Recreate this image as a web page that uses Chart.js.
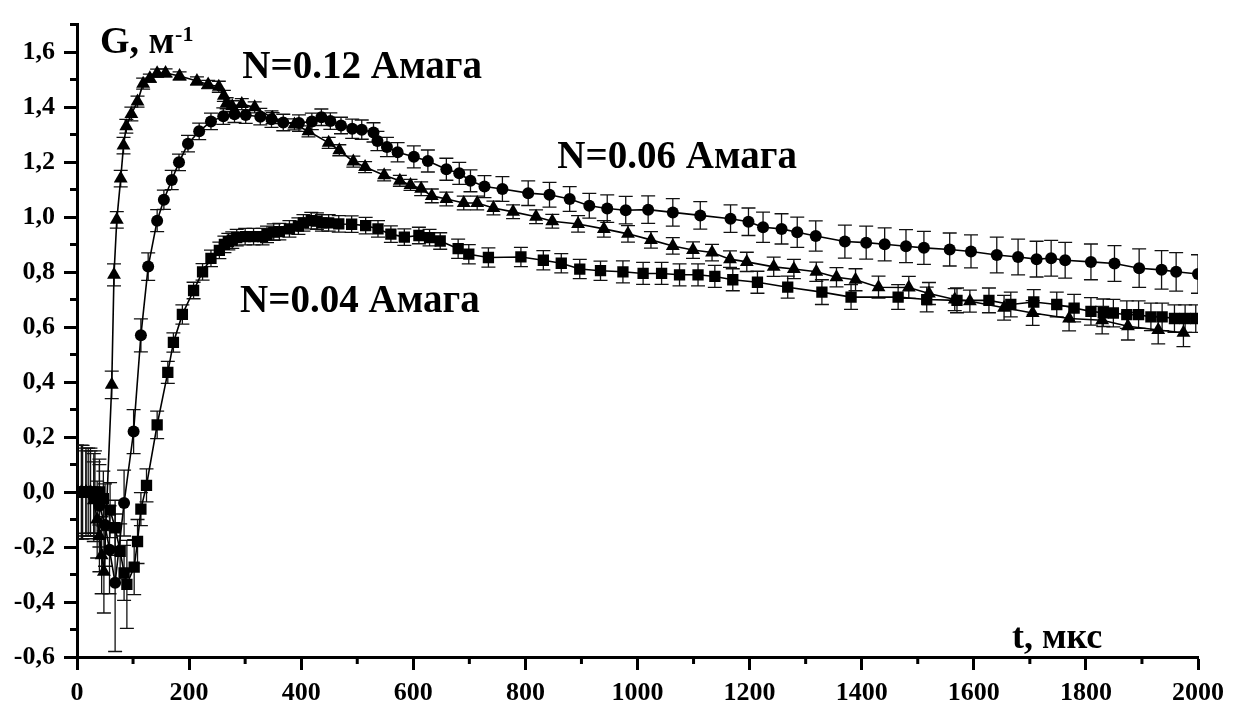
<html>
  <head>
    <script src="https://cdn.jsdelivr.net/npm/chart.js@4.4.0/dist/chart.umd.min.js"></script>
    <style>
      body { margin: 0; background: #fff; }
    </style>
  </head>
  <body>
    <canvas id="output" width="1238" height="709"></canvas>

    <script>
      // N = 0.12 Amaga (triangles)
      var t12 = [0,8,16,24,30,36,40,44,48,62,66,71,78,83,88,97,108,118,130,143,158,183,214,234,253,262,267,277,294,317,349,388,413,449,468,493,514,548,576,595,614,633,659,690,714,743,778,819,848,894,940,983,1024,1063,1099,1133,1165,1195,1243,1279,1319,1355,1389,1430,1484,1520,1566,1593,1654,1705,1770,1829,1875,1929,1974];
      var g12 = [0,0,0,0,-0.03,-0.10,-0.16,-0.23,-0.29,0.39,0.79,0.99,1.14,1.26,1.33,1.375,1.42,1.485,1.505,1.523,1.524,1.513,1.495,1.482,1.474,1.441,1.414,1.403,1.411,1.399,1.36,1.337,1.312,1.27,1.243,1.202,1.182,1.152,1.132,1.117,1.103,1.077,1.066,1.051,1.051,1.033,1.019,1.001,0.985,0.975,0.957,0.939,0.917,0.895,0.88,0.871,0.847,0.837,0.819,0.811,0.801,0.781,0.772,0.745,0.744,0.722,0.7,0.694,0.67,0.651,0.631,0.625,0.603,0.589,0.579];
      var e12 = [0.17,0.17,0.15,0.15,0.14,0.14,0.13,0.14,0.15,0.05,0.04,0.03,0.03,0.03,0.025,0.025,0.02,0.02,0.015,0.015,0.015,0.015,0.015,0.015,0.02,0.02,0.02,0.02,0.02,0.02,0.02,0.02,0.02,0.02,0.02,0.02,0.02,0.02,0.02,0.02,0.025,0.025,0.025,0.025,0.025,0.025,0.025,0.025,0.025,0.03,0.03,0.03,0.03,0.03,0.03,0.03,0.03,0.035,0.035,0.035,0.035,0.035,0.04,0.04,0.04,0.04,0.04,0.04,0.045,0.045,0.045,0.05,0.05,0.05,0.05];

      // N = 0.06 Amaga (circles)
      var t06 = [0,10,20,30,40,50,58,68,84,101,114,127,143,155,169,182,198,218,239,261,281,301,327,347,368,396,419,436,452,471,491,508,529,536,553,572,601,626,659,682,702,727,759,805,843,879,914,946,979,1019,1063,1112,1166,1198,1224,1257,1285,1318,1370,1408,1441,1479,1511,1557,1595,1641,1679,1712,1738,1763,1809,1851,1895,1935,1961,2000];
      var g06 = [0,0,0,-0.02,-0.05,-0.12,-0.21,-0.33,-0.04,0.22,0.57,0.82,0.987,1.063,1.135,1.199,1.267,1.312,1.348,1.367,1.374,1.371,1.365,1.356,1.344,1.342,1.348,1.363,1.349,1.333,1.321,1.318,1.308,1.277,1.255,1.236,1.219,1.204,1.174,1.159,1.132,1.111,1.102,1.087,1.081,1.066,1.041,1.031,1.025,1.027,1.017,1.006,0.994,0.983,0.963,0.957,0.945,0.931,0.911,0.907,0.901,0.894,0.888,0.882,0.875,0.862,0.855,0.847,0.85,0.843,0.837,0.831,0.814,0.808,0.801,0.793];
      var e06 = [0.17,0.17,0.16,0.16,0.15,0.15,0.16,0.25,0.12,0.08,0.06,0.05,0.04,0.035,0.035,0.03,0.03,0.03,0.03,0.03,0.03,0.03,0.03,0.03,0.03,0.03,0.03,0.03,0.03,0.03,0.035,0.035,0.035,0.035,0.035,0.035,0.04,0.04,0.04,0.04,0.04,0.04,0.045,0.045,0.045,0.045,0.045,0.05,0.05,0.05,0.05,0.05,0.05,0.05,0.055,0.055,0.055,0.055,0.06,0.06,0.06,0.06,0.06,0.06,0.06,0.065,0.065,0.065,0.065,0.065,0.065,0.065,0.07,0.07,0.07,0.07];

      // N = 0.04 Amaga (squares)
      var t04 = [0,8,16,24,32,40,47,59,68,77,84,89,102,108,114,124,143,162,172,188,208,224,239,254,263,270,277,285,300,315,331,339,351,361,379,395,404,418,428,437,449,467,490,515,537,560,584,610,629,648,680,699,734,792,832,864,897,934,974,1010,1043,1075,1108,1138,1170,1214,1268,1329,1381,1465,1516,1570,1627,1666,1707,1748,1779,1809,1831,1849,1873,1894,1916,1936,1958,1977,1996];
      var g04 = [0,0,0,0,0,0,-0.024,-0.066,-0.13,-0.216,-0.294,-0.336,-0.273,-0.18,-0.062,0.024,0.244,0.435,0.544,0.646,0.733,0.801,0.85,0.879,0.901,0.911,0.916,0.925,0.929,0.929,0.929,0.937,0.945,0.947,0.957,0.967,0.979,0.987,0.985,0.979,0.979,0.975,0.974,0.969,0.957,0.938,0.927,0.933,0.925,0.913,0.885,0.865,0.853,0.855,0.843,0.832,0.811,0.805,0.801,0.795,0.795,0.79,0.79,0.784,0.772,0.763,0.745,0.727,0.709,0.709,0.7,0.697,0.697,0.682,0.691,0.682,0.669,0.657,0.652,0.651,0.645,0.645,0.637,0.637,0.631,0.631,0.631];
      var e04 = [0.17,0.17,0.16,0.16,0.15,0.12,0.1,0.1,0.1,0.1,0.1,0.16,0.1,0.08,0.06,0.06,0.05,0.04,0.035,0.035,0.03,0.03,0.03,0.03,0.03,0.03,0.03,0.03,0.03,0.03,0.03,0.03,0.03,0.03,0.03,0.03,0.03,0.03,0.03,0.03,0.03,0.03,0.03,0.03,0.03,0.03,0.03,0.03,0.03,0.03,0.035,0.035,0.035,0.035,0.035,0.035,0.035,0.035,0.04,0.04,0.04,0.04,0.04,0.04,0.04,0.04,0.04,0.045,0.045,0.045,0.045,0.045,0.045,0.045,0.045,0.045,0.05,0.05,0.05,0.05,0.05,0.05,0.05,0.05,0.05,0.05,0.05];

      // axis ticks (major get labels, minor are short marks)
      var yMajor = [-0.6,-0.4,-0.2,0,0.2,0.4,0.6,0.8,1.0,1.2,1.4,1.6];
      var yMinor = [-0.5,-0.3,-0.1,0.1,0.3,0.5,0.7,0.9,1.1,1.3,1.5,1.7];
      var xMajor = [0,200,400,600,800,1000,1200,1400,1600,1800,2000];
      var xMinor = [100,300,500,700,900,1100,1300,1500,1700,1900];

      // text labels placed in data coordinates
      var labels = [
        { text: 'N=0.12 Амага', t: 295, g: 1.506, size: 39 },
        { text: 'N=0.06 Амага', t: 857, g: 1.178, size: 39 },
        { text: 'N=0.04 Амага', t: 291, g: 0.656, size: 39 },
        { text: 't, мкс', t: 1668, g: -0.566, size: 36 },
        { text: 'G, м', t: 41, g: 1.596, size: 38 },
        { text: '-1', t: 175, g: 1.64, size: 22 }
      ];

      var serif = '"Liberation Serif", "Times New Roman", serif';

      function pts(ts, gs) {
        return ts.map(function (t, i) { return { x: t, y: gs[i] }; });
      }

      function series(ts, gs, errs, style, r) {
        return {
          data: pts(ts, gs),
          errors: errs,
          borderColor: '#000',
          backgroundColor: '#000',
          borderWidth: 1.6,
          pointStyle: style,
          pointRadius: r,
          pointBorderWidth: 0,
          tension: 0
        };
      }

      // vertical error bars with caps
      var errorBars = {
        id: 'errorBars',
        beforeDatasetsDraw: function (chart) {
          var c = chart.ctx, xs = chart.scales.x, ys = chart.scales.y, a = chart.chartArea;
          c.save();
          c.beginPath();
          c.rect(a.left, a.top - 10, a.right - a.left, a.bottom - a.top + 10);
          c.clip();
          c.strokeStyle = '#111';
          c.lineWidth = 1.3;
          chart.data.datasets.forEach(function (ds) {
            ds.data.forEach(function (p, i) {
              var e = ds.errors[i];
              var x = xs.getPixelForValue(p.x);
              var y1 = ys.getPixelForValue(p.y + e);
              var y2 = ys.getPixelForValue(p.y - e);
              c.beginPath();
              c.moveTo(x, y1); c.lineTo(x, y2);
              c.moveTo(x - 7, y1); c.lineTo(x + 7, y1);
              c.moveTo(x - 7, y2); c.lineTo(x + 7, y2);
              c.stroke();
            });
          });
          c.restore();
        }
      };

      // minor ticks + text labels
      var extras = {
        id: 'extras',
        afterDraw: function (chart) {
          var c = chart.ctx, xs = chart.scales.x, ys = chart.scales.y, a = chart.chartArea;
          c.save();
          c.strokeStyle = '#000';
          c.lineWidth = 3;
          c.beginPath();
          yMinor.forEach(function (v) {
            var y = ys.getPixelForValue(v);
            c.moveTo(a.left - 7, y); c.lineTo(a.left, y);
          });
          xMinor.forEach(function (t) {
            var x = xs.getPixelForValue(t);
            c.moveTo(x, a.bottom); c.lineTo(x, a.bottom + 7);
          });
          c.stroke();

          c.fillStyle = '#000';
          c.textBaseline = 'alphabetic';
          c.textAlign = 'left';
          labels.forEach(function (l) {
            c.font = 'bold ' + l.size + 'px ' + serif;
            c.fillText(l.text, xs.getPixelForValue(l.t), ys.getPixelForValue(l.g));
          });
          c.restore();
        }
      };

      var ctx = document.getElementById('output').getContext('2d');
      var myChart = new Chart(ctx, {
        type: 'line',
        data: {
          datasets: [
            series(t12, g12, e12, 'triangle', 8),
            series(t06, g06, e06, 'circle', 6),
            series(t04, g04, e04, 'rect', 8)
          ]
        },
        options: {
          responsive: false,
          animation: false,
          layout: { padding: { left: 0, top: 18, right: 40, bottom: 0 } },
          plugins: { legend: { display: false }, tooltip: { enabled: false } },
          scales: {
            x: {
              type: 'linear',
              min: 0,
              max: 2000,
              afterFit: function (s) { s.height = 52; },
              afterBuildTicks: function (s) { s.ticks = xMajor.map(function (v) { return { value: v }; }); },
              border: { display: true, color: '#000', width: 3 },
              grid: { drawOnChartArea: false, drawTicks: true, tickLength: 13, tickWidth: 3, tickColor: '#000' },
              ticks: {
                padding: 8,
                color: '#000',
                maxRotation: 0,
                autoSkip: false,
                font: { family: serif, size: 26, weight: 'bold' },
                callback: function (v) { return String(v); }
              }
            },
            y: {
              min: -0.6,
              max: 1.7,
              afterFit: function (s) { s.width = 77; },
              afterBuildTicks: function (s) { s.ticks = yMajor.map(function (v) { return { value: v }; }); },
              border: { display: true, color: '#000', width: 3 },
              grid: { drawOnChartArea: false, drawTicks: true, tickLength: 13, tickWidth: 3, tickColor: '#000' },
              ticks: {
                padding: 9,
                color: '#000',
                autoSkip: false,
                font: { family: serif, size: 26, weight: 'bold' },
                callback: function (v) { return v.toFixed(1).replace('.', ','); }
              }
            }
          }
        },
        plugins: [errorBars, extras]
      });
    </script>
  </body>
</html>
